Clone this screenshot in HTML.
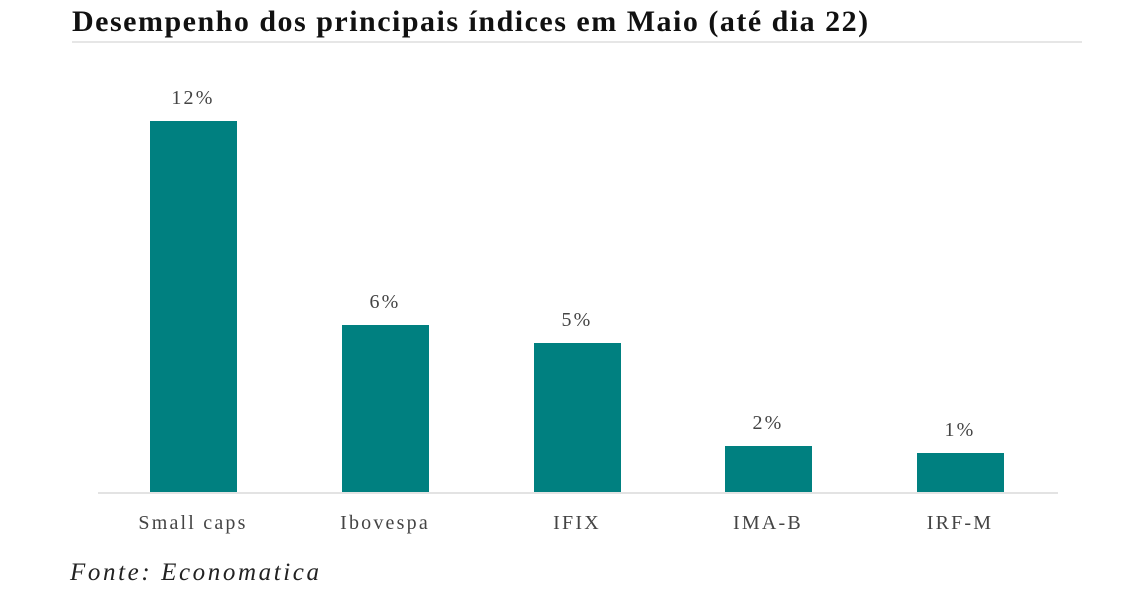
<!DOCTYPE html>
<html><head><meta charset="utf-8"><style>
body{margin:0;width:1139px;height:600px;background:#fff;position:relative;overflow:hidden;font-family:"Liberation Serif",serif}
.t{position:absolute;left:72px;top:5px;font-size:30px;font-weight:bold;color:#111;white-space:nowrap;letter-spacing:1.5px}
.ul{position:absolute;left:72px;top:41px;width:1010px;height:2px;background:#e6e6e6}
.b{position:absolute;background:#008080;width:87px}
.v,.l{position:absolute;width:160px;text-align:center;color:#444;font-size:20px;letter-spacing:2.2px}
.base{position:absolute;left:98px;top:492px;width:960px;height:2px;background:#e3e3e3}
.f{position:absolute;left:70px;top:559px;font-size:25px;font-style:italic;color:#222;letter-spacing:2.6px}
</style></head><body>
<div class="t">Desempenho dos principais índices em Maio (até dia 22)</div>
<div class="ul"></div>
<div class="b" style="left:150px;top:121px;height:372px"></div>
<div class="b" style="left:342px;top:325px;height:168px"></div>
<div class="b" style="left:534px;top:343px;height:150px"></div>
<div class="b" style="left:725px;top:446px;height:47px"></div>
<div class="b" style="left:917px;top:453px;height:40px"></div>
<div class="base"></div>
<div class="v" style="left:113px;top:87px">12%</div>
<div class="v" style="left:305px;top:291px">6%</div>
<div class="v" style="left:497px;top:309px">5%</div>
<div class="v" style="left:688px;top:412px">2%</div>
<div class="v" style="left:880px;top:419px">1%</div>
<div class="l" style="left:113px;top:512px">Small caps</div>
<div class="l" style="left:305px;top:512px">Ibovespa</div>
<div class="l" style="left:497px;top:512px">IFIX</div>
<div class="l" style="left:688px;top:512px">IMA-B</div>
<div class="l" style="left:880px;top:512px">IRF-M</div>
<div class="f">Fonte: Economatica</div>
</body></html>
